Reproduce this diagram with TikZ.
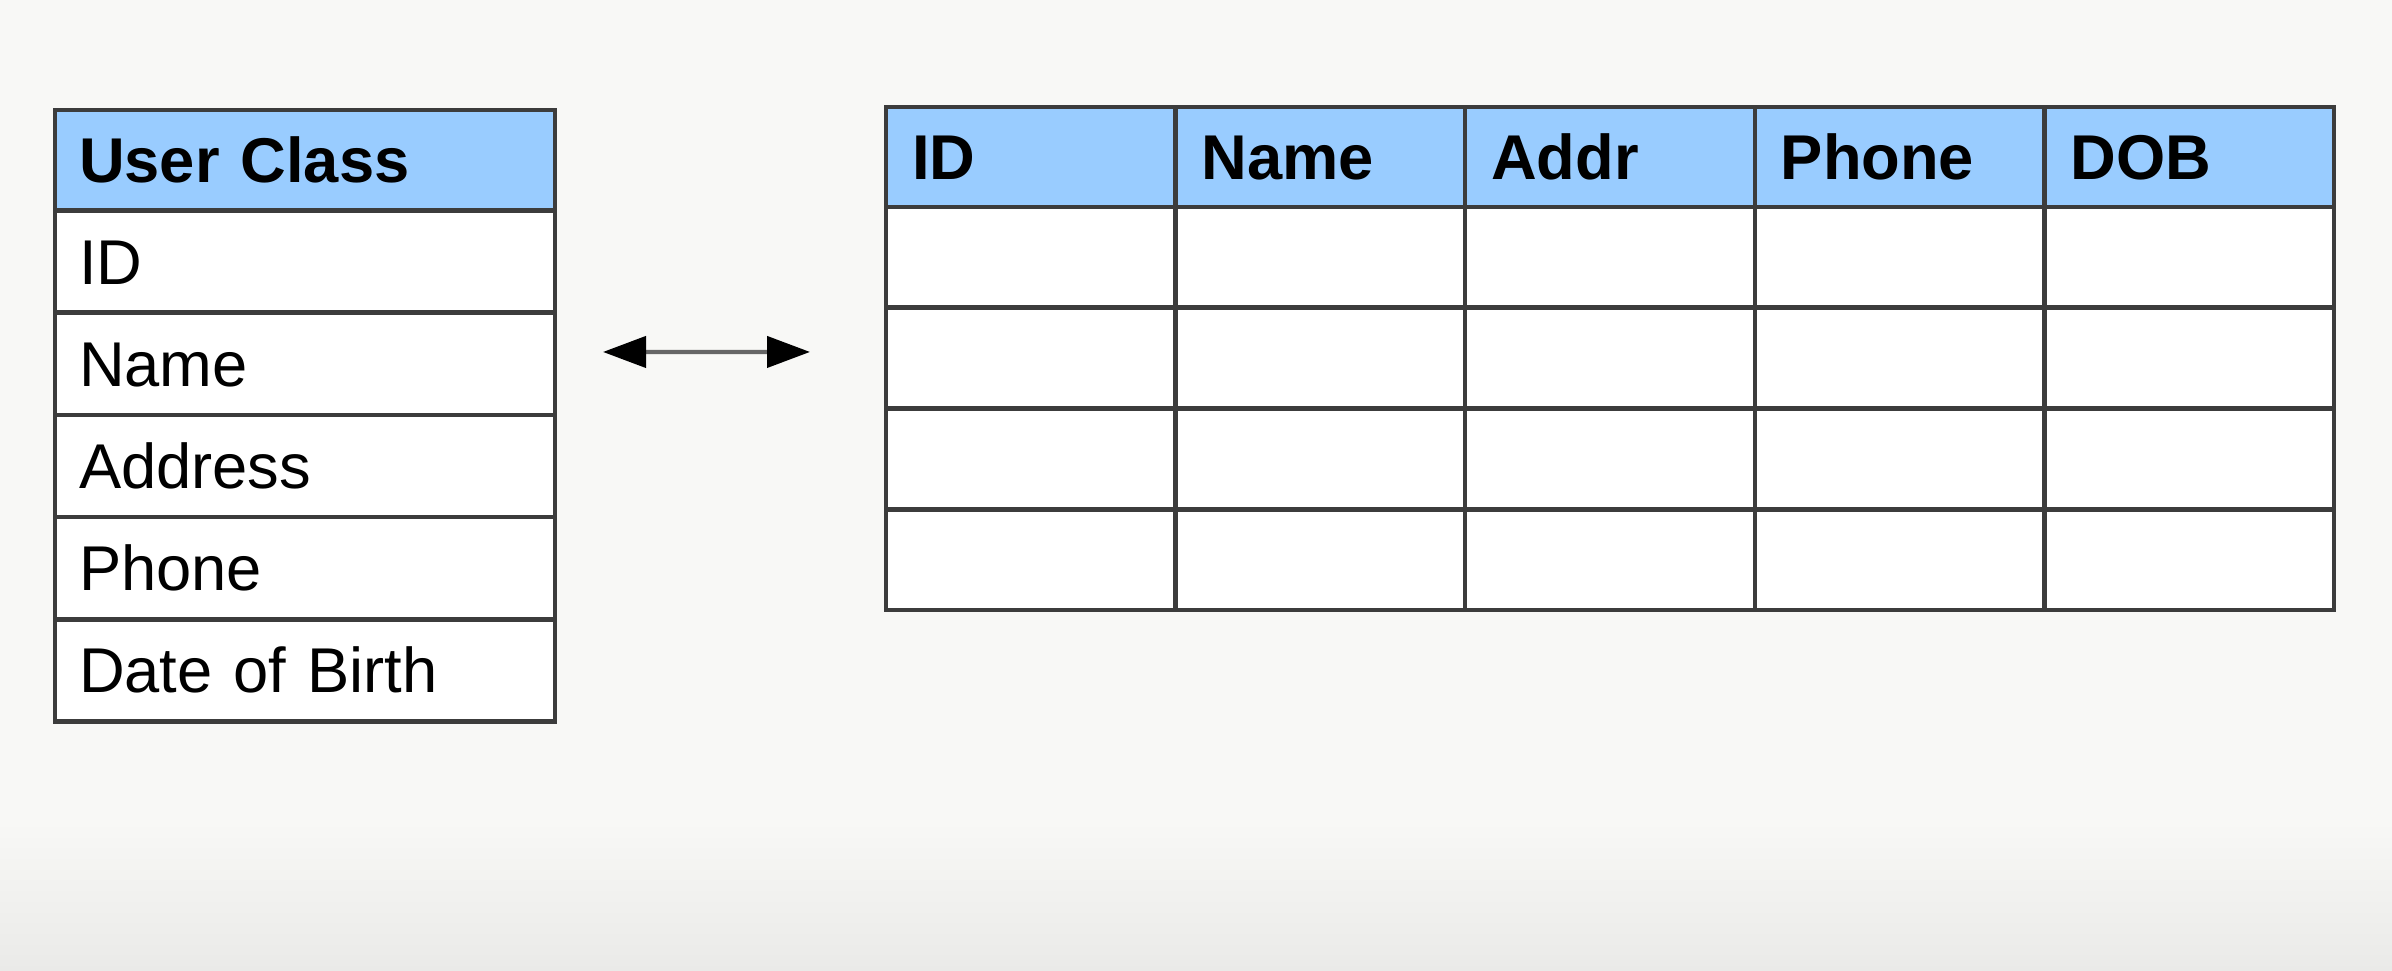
\documentclass[tikz,border=0pt]{standalone}
\usepackage{fontspec}
\setmainfont{Liberation Sans}
\usetikzlibrary{positioning, arrows.meta}

\definecolor{hdrblue}{HTML}{99CCFF}
\definecolor{gridgray}{HTML}{3C3C3C}
\definecolor{paper}{HTML}{F8F8F6}
\definecolor{paperdark}{HTML}{EAEAE8}

\tikzset{
  cellbase/.style={draw=gridgray, line width=1.3pt, fill=white, outer sep=0pt,
    inner ysep=0pt, align=left, text height=0.45cm, text depth=0pt,
    font=\fontsize{18}{21}\selectfont},
  classcell/.style={cellbase, minimum width=5cm, minimum height=1.022cm,
    inner xsep=0.24cm, text width=4.52cm},
  tabcell/.style={cellbase, minimum width=2.896cm, minimum height=1.0075cm,
    inner xsep=0.26cm, text width=2.376cm},
  hdrcell/.style={fill=hdrblue, font=\fontsize{18}{21}\selectfont\bfseries},
  link/.style={draw=gray!80!black, line width=1.2pt,
    {Triangle[length=4.3mm, width=3.1mm, color=black]}-{Triangle[length=4.3mm, width=3.1mm, color=black]}}
}

\begin{document}
\begin{tikzpicture}

    % Background
    \useasboundingbox (0,0) rectangle (23.92,9.71);
    \fill[paper] (0,0) rectangle (23.92,9.71);
    \shade[top color=paper, bottom color=paperdark] (0,0) rectangle (23.92,1.5);

    % Class box
    \node[classcell, hdrcell, minimum height=1.005cm, anchor=north west] (f0) at (0.55,8.61) {User Class};
    \foreach \f [count=\i, evaluate=\i as \j using int(\i-1)] in {ID, Name, Address, Phone, Date of Birth}
        \node[classcell, below=0pt of f\j] (f\i) {\f};

    % Table header
    \foreach \h [count=\c] in {ID, Name, Addr, Phone, DOB}
        \node[tabcell, hdrcell, minimum height=1cm, anchor=north west] (h\c) at ({8.86+(\c-1)*2.896}, 8.64) {\h};

    % Table rows
    \foreach \r in {1,...,4}
        \foreach \c in {1,...,5}
            \node[tabcell, anchor=north west] (c\r-\c) at ({8.86+(\c-1)*2.896}, {7.64-(\r-1)*1.0075}) {};

    % Mapping
    \draw[link] ([xshift=0.48cm, yshift=0.118cm]f2.east) -- ([xshift=-0.76cm, yshift=0.0615cm]c2-1.west);

\end{tikzpicture}
\end{document}
